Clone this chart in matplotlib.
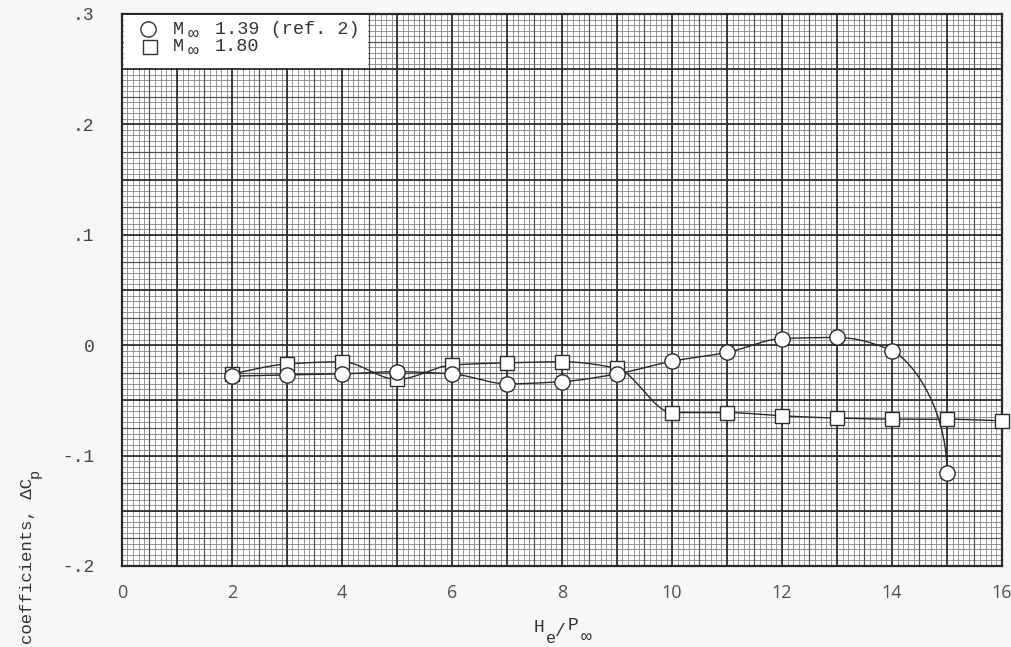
import numpy as np
import matplotlib
matplotlib.use("Agg")
import matplotlib.pyplot as plt
from matplotlib.patches import Rectangle

# Measured data: pressure-coefficient increments vs. He/P_inf
x_m139 = [2, 3, 4, 5, 6, 7, 8, 9, 10, 11, 12, 13, 14, 15]
dcp_m139 = [-0.028, -0.027, -0.026, -0.024, -0.026, -0.035, -0.033, -0.026,
            -0.0145, -0.0066, 0.006, 0.007, -0.005, -0.116]

x_m180 = [2, 3, 4, 5, 6, 7, 8, 9, 10, 11, 12, 13, 14, 15, 16]
dcp_m180 = [-0.026, -0.017, -0.015, -0.031, -0.018, -0.016, -0.015, -0.021,
            -0.061, -0.061, -0.064, -0.066, -0.067, -0.067, -0.0685]

xticks = [0, 2, 4, 6, 8, 10, 12, 14, 16]
xtick_labels = ["0", "2", "4", "6", "8", "10", "12", "14", "16"]
yticks = [-0.2, -0.1, 0.0, 0.1, 0.2, 0.3]
ytick_labels = ["-.2", "-.1", "0", ".1", ".2", ".3"]

MONO = ["Liberation Mono", "DejaVu Sans Mono"]
INK = "#2a2a2a"
TXT = "#333333"


def fair_curve(xs, ys, yscale=20.0, n=40, end_dir=None, end_gain=1.5):
    """Parametric cubic Hermite curve with shape-preserving (Fritsch-Carlson)
    slopes; end_dir optionally fixes the tangent direction at the last point."""
    P = np.column_stack([np.asarray(xs, float), np.asarray(ys, float) * yscale])
    h = np.diff(P[:, 0])
    s = np.diff(P[:, 1]) / h
    d = np.zeros(len(P))
    for i in range(1, len(P) - 1):
        if s[i - 1] * s[i] > 0:
            w1 = 2 * h[i] + h[i - 1]
            w2 = h[i] + 2 * h[i - 1]
            d[i] = (w1 + w2) / (w1 / s[i - 1] + w2 / s[i])
    d[0] = s[0]
    d[-1] = s[-1]
    m = np.column_stack([np.ones(len(P)), d])
    if end_dir is not None:
        e = np.asarray(end_dir, float)
        e = e / np.linalg.norm(e)
        m[-1] = e * np.linalg.norm(P[-1] - P[-2]) * end_gain
    u = np.linspace(0, 1, n)[:, None]
    h00 = 2 * u**3 - 3 * u**2 + 1
    h10 = u**3 - 2 * u**2 + u
    h01 = -2 * u**3 + 3 * u**2
    h11 = u**3 - u**2
    segs = []
    for i in range(len(P) - 1):
        c = h00 * P[i] + h10 * m[i] * h[i] ** 0 + h01 * P[i + 1] + h11 * m[i + 1]
        segs.append(c if i == 0 else c[1:])
    C = np.vstack(segs)
    return C[:, 0], C[:, 1] / yscale


W, H = 1012, 647
fig = plt.figure(figsize=(W / 100, H / 100), dpi=100, facecolor="#f7f7f7")
L, R, T, B = 122, 1002, 14, 566
ax = fig.add_axes([L / W, 1 - B / H, (R - L) / W, (B - T) / H])
ax.set_facecolor("white")
ax.set_xlim(0, 16)
ax.set_ylim(-0.2, 0.3)

# graph-paper ruling: fine, half and full divisions
gx = np.arange(0, 16.001, 0.1)
gy = np.arange(-0.2, 0.3001, 0.005)
ax.vlines(gx, -0.2, 0.3, color="#858585", lw=0.6, zorder=0)
ax.hlines(gy, 0, 16, color="#858585", lw=0.6, zorder=0)
ax.vlines(np.arange(0.5, 16, 1.0), -0.2, 0.3, color="#505050", lw=0.85, zorder=0)
ax.hlines(np.arange(-0.175, 0.3, 0.05), 0, 16, color="#505050", lw=0.85, zorder=0)
ax.vlines(np.arange(0, 16.001, 1.0), -0.2, 0.3, color="#2a2a2a", lw=1.25, zorder=0)
ax.hlines(np.arange(-0.2, 0.3001, 0.05), 0, 16, color="#2a2a2a", lw=1.25, zorder=0)

for sp in ax.spines.values():
    sp.set_color(INK)
    sp.set_linewidth(1.6)

ax.tick_params(length=0)
ax.set_xticks(xticks)
ax.set_xticklabels(xtick_labels, family=["Open Sans", "DejaVu Sans"],
                   fontsize=13, color="#505050")
ax.set_yticks(yticks)
ax.set_yticklabels(ytick_labels, family=MONO, fontsize=13, color="#444444")
ax.tick_params(axis="x", pad=13)
ax.tick_params(axis="y", pad=20)

# curves
cx, cy = fair_curve(x_m139, dcp_m139, end_dir=(0, -1))
ax.plot(cx, cy, color=INK, lw=1.0, zorder=3)
sx, sy = fair_curve(x_m180, dcp_m180)
ax.plot(sx, sy, color=INK, lw=1.0, zorder=3)
ax.plot(x_m180, dcp_m180, ls="none", marker="s", ms=9.5, mfc="white",
        mec=INK, mew=1.0, zorder=4, clip_on=False)
ax.plot(x_m139, dcp_m139, ls="none", marker="o", ms=11, mfc="white",
        mec=INK, mew=1.0, zorder=5, clip_on=False)

# key box in the upper-left corner
to_ax = lambda px, py: ((px - L) / (R - L), (B - py) / (B - T))
x0, y0 = to_ax(124, 68)
x1, y1 = to_ax(368, 15)
ax.add_patch(Rectangle((x0, y0), x1 - x0, y1 - y0, transform=ax.transAxes,
                       facecolor="white", edgecolor="none", zorder=6))


def fig_pt(px, py):
    return px / W, 1 - py / H


def mono_text(px, py, s, size=13, **kw):
    fig.text(*fig_pt(px, py), s, family=MONO, fontsize=size, color=TXT,
             va="baseline", ha="left", zorder=10, **kw)


fig.add_artist(plt.Line2D([148 / W], [1 - 29 / H], marker="o", ms=11,
                          mfc="white", mec=TXT, mew=1.0, ls="none"))
fig.add_artist(plt.Line2D([150 / W], [1 - 47 / H], marker="s", ms=9.5,
                          mfc="white", mec=TXT, mew=1.0, ls="none"))
mono_text(173, 34, "M", size=13.3)
mono_text(188, 39, "\u221e", size=13)
mono_text(215, 34, "1.39 (ref. 2)", size=13.3)
mono_text(173, 51, "M", size=13.3)
mono_text(188, 56, "\u221e", size=13)
mono_text(215, 51, "1.80", size=13.3)

# axis titles
mono_text(534, 632, "H")
mono_text(546, 643, "e", size=12)
mono_text(555, 636, "/", size=13)
mono_text(568, 630, "P")
mono_text(581, 642, "\u221e", size=13)

fig.text(0.027, 1 - 478 / H, "coefficients, \u0394C",
         family=MONO, fontsize=12.5, color=TXT, rotation=90,
         ha="center", va="top")
fig.text(0.034, 1 - 478 / H, "p", family=MONO, fontsize=11,
         color=TXT, rotation=90, ha="center", va="bottom")

fig.savefig("out.png", dpi=100, facecolor=fig.get_facecolor())
